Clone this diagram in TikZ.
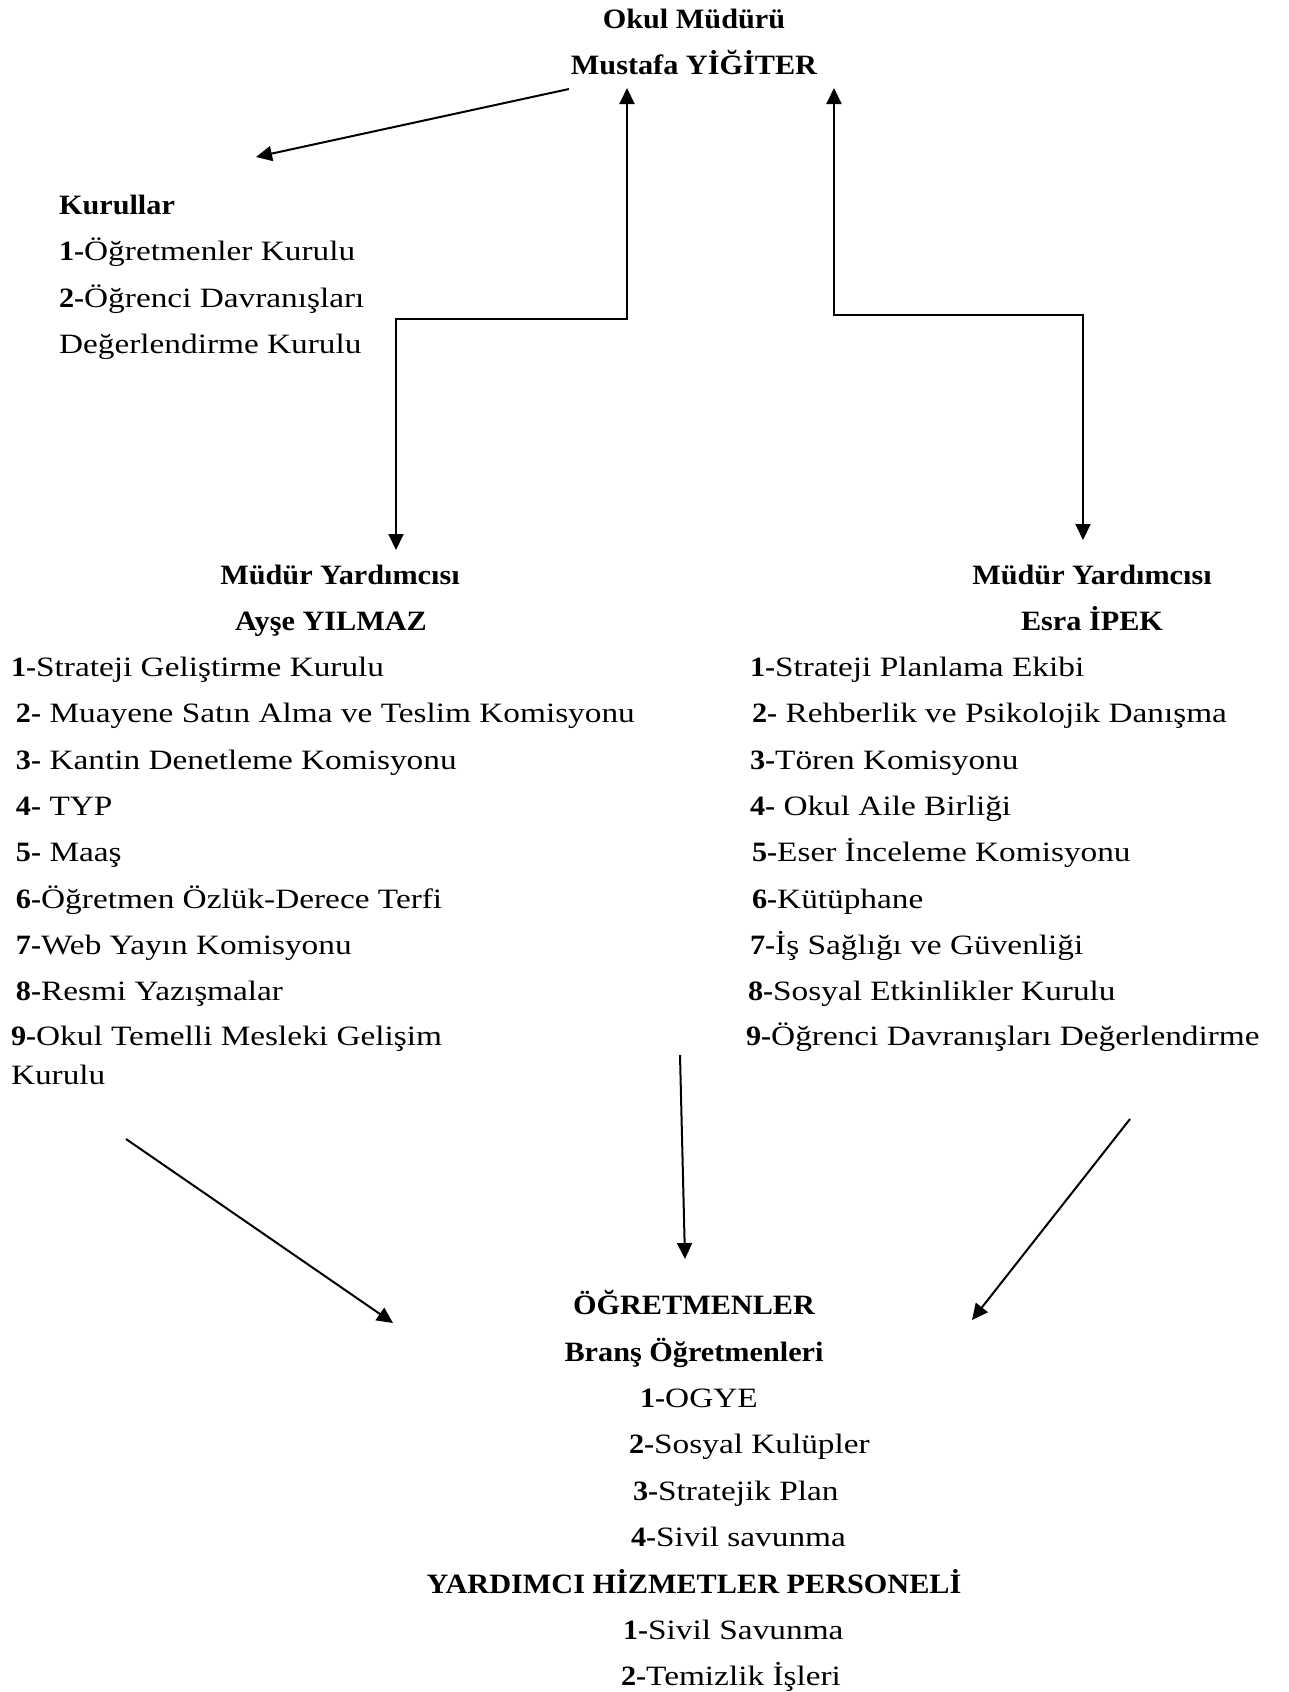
\documentclass[tikz,border=0pt]{standalone}
\usepackage{fontspec}
\setmainfont{Liberation Serif}[FakeStretch=1.19,BoldFeatures={FakeStretch=1.08}]
\usetikzlibrary{arrows.meta}
\begin{document}
\begin{tikzpicture}[x=1pt,y=-1pt,
  txt/.style={inner sep=0pt,outer sep=0pt,anchor=base west,font=\fontsize{28}{34}\selectfont},
  ctr/.style={inner sep=0pt,outer sep=0pt,anchor=base,font=\fontsize{28}{34}\selectfont\bfseries},
  conn/.style={line width=2pt,-{Triangle[length=16pt,width=15pt]}},
  conn2/.style={line width=2pt,{Triangle[length=16pt,width=15pt]}-{Triangle[length=16pt,width=15pt]}}]
\useasboundingbox (0,0) rectangle (1288,1692);
% title
\node[ctr] (t1) at (694,28) {Okul Müdürü};
\node[ctr] (t2) at (694,74) {Mustafa YİĞİTER};
% kurullar
\node[txt,font=\fontsize{28}{34}\selectfont\bfseries] (k0) at (59,214) {Kurullar};
\node[txt] (k1) at (59,260) {\textbf{1-}Öğretmenler Kurulu};
\node[txt] (k2) at (59,307) {\textbf{2-}Öğrenci Davranışları};
\node[txt] (k3) at (59,353) {Değerlendirme Kurulu};
% left assistant
\node[ctr] (l0) at (340,584) {Müdür Yardımcısı};
\node[ctr] (l00) at (331,630) {Ayşe YILMAZ};
\node[txt] (l1) at (11,676) {\textbf{1-}Strateji Geliştirme Kurulu};
\node[txt] (l2) at (16,722) {\textbf{2-} Muayene Satın Alma ve Teslim Komisyonu};
\node[txt] (l3) at (16,769) {\textbf{3-} Kantin Denetleme Komisyonu};
\node[txt] (l4) at (16,815) {\textbf{4-} TYP};
\node[txt] (l5) at (16,861) {\textbf{5-} Maaş};
\node[txt] (l6) at (16,908) {\textbf{6-}Öğretmen Özlük-Derece Terfi};
\node[txt] (l7) at (16,954) {\textbf{7-}Web Yayın Komisyonu};
\node[txt] (l8) at (16,1000) {\textbf{8-}Resmi Yazışmalar};
\node[txt] (l9) at (11,1045) {\textbf{9-}Okul Temelli Mesleki Gelişim};
\node[txt] (l10) at (11,1084) {Kurulu};
% right assistant
\node[ctr] (r0) at (1092,584) {Müdür Yardımcısı};
\node[ctr] (r00) at (1092,630) {Esra İPEK};
\node[txt] (r1) at (750,676) {\textbf{1-}Strateji Planlama Ekibi};
\node[txt] (r2) at (752,722) {\textbf{2-} Rehberlik ve Psikolojik Danışma};
\node[txt] (r3) at (750,769) {\textbf{3-}Tören Komisyonu};
\node[txt] (r4) at (750,815) {\textbf{4-} Okul Aile Birliği};
\node[txt] (r5) at (752,861) {\textbf{5-}Eser İnceleme Komisyonu};
\node[txt] (r6) at (752,908) {\textbf{6-}Kütüphane};
\node[txt] (r7) at (750,954) {\textbf{7-}İş Sağlığı ve Güvenliği};
\node[txt] (r8) at (748,1000) {\textbf{8-}Sosyal Etkinlikler Kurulu};
\node[txt] (r9) at (746,1045) {\textbf{9-}Öğrenci Davranışları Değerlendirme};
% bottom
\node[ctr] (b0) at (694,1314) {ÖĞRETMENLER};
\node[ctr] (b1) at (694,1361) {Branş Öğretmenleri};
\node[txt] (b2) at (640,1407) {\textbf{1-}OGYE};
\node[txt] (b3) at (629,1453) {\textbf{2-}Sosyal Kulüpler};
\node[txt] (b4) at (633,1500) {\textbf{3-}Stratejik Plan};
\node[txt] (b5) at (631,1546) {\textbf{4-}Sivil savunma};
\node[ctr] (b6) at (694,1593) {YARDIMCI HİZMETLER PERSONELİ};
\node[txt] (b7) at (623,1639) {\textbf{1-}Sivil Savunma};
\node[txt] (b8) at (621,1685) {\textbf{2-}Temizlik İşleri};
% connector ends
\coordinate (ka) at (569,89);
\coordinate (kb) at (256,157);
\coordinate (lt) at (627,88);
\coordinate (lb) at (396,550);
\coordinate (rt) at (834,88);
\coordinate (rb) at (1083,540);
\coordinate (d1a) at (126,1139);
\coordinate (d1b) at (393,1323);
\coordinate (d2a) at (680,1055);
\coordinate (d2b) at (685,1259);
\coordinate (d3a) at (1130,1119);
\coordinate (d3b) at (972,1320);
\draw[conn] (ka) -- (kb);
\draw[conn2] (lt) |- (396,319) -- (lb);
\draw[conn2] (rt) |- (1083,315) -- (rb);
\draw[conn] (d1a) -- (d1b);
\draw[conn] (d2a) -- (d2b);
\draw[conn] (d3a) -- (d3b);
\end{tikzpicture}
\end{document}
